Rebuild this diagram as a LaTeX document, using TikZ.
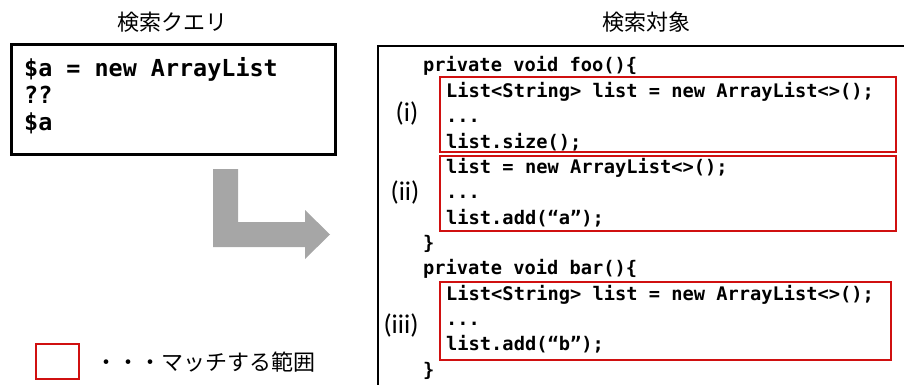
\documentclass[tikz,border=0pt]{standalone}
\usepackage{fontspec}
\setmonofont{DejaVu Sans Mono}
\newfontfamily\jpfont{Noto Sans CJK JP}
\newfontfamily\lblfont{Carlito}
\definecolor{matchred}{RGB}{208,16,16}
\definecolor{arrowgray}{RGB}{166,166,166}
\begin{document}
\begin{tikzpicture}[x=1pt,y=-1pt,
  title/.style={font=\jpfont\fontsize{22}{22}\selectfont, inner sep=0},
  query/.style={font=\ttfamily\bfseries\fontsize{23.4}{23.4}\selectfont, anchor=base west, inner sep=0},
  code/.style={font=\ttfamily\bfseries\fontsize{18.7}{18.7}\selectfont, anchor=base west, inner sep=0},
  tag/.style={font=\lblfont\fontsize{27}{27}\selectfont, inner sep=0},
  matchbox/.style={draw=matchred, line width=1.2pt},
  frame/.style={draw=black, line width=3pt},
  bigarrow/.style={fill=arrowgray, draw=none}]
\useasboundingbox (0,0) rectangle (904,385);

% titles
\node[title] (qtitle) at (172,22) {検索クエリ};
\node[title] (ttitle) at (646,22) {検索対象};

% query box
\draw[frame] (11,45) rectangle (335,154);
\node[query] (q1) at (24,77) {\$a = new ArrayList};
\node[query] (q2) at (24,104) {??};
\node[query] (q3) at (24,131) {\$a};

% bent arrow from query to target
\fill[bigarrow] (213,169) -- (238,169) -- (238,222) -- (305,222) -- (305,210)
  -- (330,234.5) -- (305,259) -- (305,247) -- (213,247) -- cycle;

% target frame, running off the page edge
\begin{scope}
  \clip (0,0) rectangle (904,385);
  \draw[draw=black, line width=2.5pt] (378,46) rectangle (930,410);
\end{scope}

% match regions
\draw[matchbox] (440,77) rectangle (896,152);
\draw[matchbox] (440,156) rectangle (896,231);
\draw[matchbox] (440,282) rectangle (891,360);

% code lines
\node[code] (c0)  at (423,72.0)  {private void foo()\{};
\node[code] (c1)  at (446,97.3)  {List<String> list = new ArrayList<>();};
\node[code] (c2)  at (446,122.7) {...};
\node[code] (c3)  at (446,148.0) {list.size();};
\node[code] (c4)  at (446,173.3) {list = new ArrayList<>();};
\node[code] (c5)  at (446,198.7) {...};
\node[code] (c6)  at (446,224.0) {list.add(“a”);};
\node[code] (c7)  at (423,249.3) {\}};
\node[code] (c8)  at (423,274.7) {private void bar()\{};
\node[code] (c9)  at (446,300.0) {List<String> list = new ArrayList<>();};
\node[code] (c10) at (446,325.3) {...};
\node[code] (c11) at (446,350.7) {list.add(“b”);};
\node[code] (c12) at (423,376.0) {\}};

% region tags
\node[tag] (t1) at (407,113) {(i)};
\node[tag] (t2) at (405,192) {(ii)};
\node[tag] (t3) at (401,325) {(iii)};

% legend
\draw[matchbox] (36,344) rectangle (79,379);
\node[title, anchor=west] (legend) at (95,362) {・・・マッチする範囲};
\end{tikzpicture}
\end{document}
